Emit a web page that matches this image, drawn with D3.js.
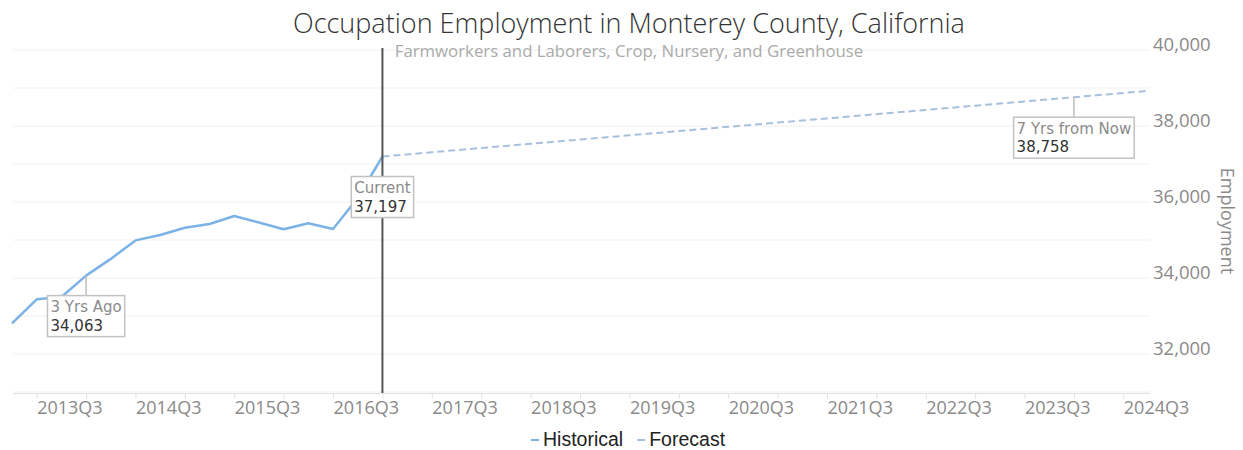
<!DOCTYPE html>
<html>
<head>
<meta charset="utf-8">
<script src="https://cdn.jsdelivr.net/npm/d3@7"></script>
<style>
  html, body { margin: 0; padding: 0; background: #fff; }
  svg { display: block; }
</style>
</head>
<body>
<svg id="chart" width="1243" height="450"></svg>
<script>
// ---- data ----
const histQuarters = ["2012Q4","2013Q1","2013Q2","2013Q3","2013Q4","2014Q1","2014Q2","2014Q3",
  "2014Q4","2015Q1","2015Q2","2015Q3","2015Q4","2016Q1","2016Q2","2016Q3"];
const histValues = [32808, 33439, 33500, 34063, 34503, 34990, 35132, 35324,
  35421, 35632, 35460, 35281, 35439, 35289, 36105, 37197];

const fcQuarters = ["2016Q3","2016Q4","2017Q1","2017Q2","2017Q3","2017Q4","2018Q1","2018Q2",
  "2018Q3","2018Q4","2019Q1","2019Q2","2019Q3","2019Q4","2020Q1","2020Q2",
  "2020Q3","2020Q4","2021Q1","2021Q2","2021Q3","2021Q4","2022Q1","2022Q2",
  "2022Q3","2022Q4","2023Q1","2023Q2","2023Q3","2023Q4","2024Q1","2024Q2"];
const fcValues = [37197, 37253, 37309, 37365, 37421, 37476, 37532, 37588,
  37644, 37699, 37755, 37811, 37866, 37922, 37978, 38033,
  38089, 38145, 38200, 38256, 38312, 38367, 38423, 38479,
  38535, 38590, 38646, 38702, 38758, 38813, 38869, 38924];

const halfYearTicks = ["2013Q1","2013Q3","2014Q1","2014Q3","2015Q1","2015Q3","2016Q1","2016Q3",
  "2017Q1","2017Q3","2018Q1","2018Q3","2019Q1","2019Q3","2020Q1","2020Q3",
  "2021Q1","2021Q3","2022Q1","2022Q3","2023Q1","2023Q3","2024Q1"];
const labelAnchors = ["2013Q1","2014Q1","2015Q1","2016Q1","2017Q1","2018Q1","2019Q1","2020Q1",
  "2021Q1","2022Q1","2023Q1","2024Q1"];
const tickLabels = ["2013Q3","2014Q3","2015Q3","2016Q3","2017Q3","2018Q3","2019Q3","2020Q3",
  "2021Q3","2022Q3","2023Q3","2024Q3"];

const yTickValues = [32000, 34000, 36000, 38000, 40000];
const yGridValues = [31000, 32000, 33000, 34000, 35000, 36000, 37000, 38000, 39000, 40000];

const callouts = [
  { q: "2013Q3", title: "3 Yrs Ago", value: 34063 },
  { q: "2016Q3", title: "Current", value: 37197 },
  { q: "2023Q3", title: "7 Yrs from Now", value: 38758 }
];
const currentQuarter = "2016Q3";

const titleText = "Occupation Employment in Monterey County, California";
const subtitleText = "Farmworkers and Laborers, Crop, Nursery, and Greenhouse";
const yTitle = "Employment";
const legendItems = ["Historical", "Forecast"];

// ---- layout ----
const plotLeft = 12, plotRight = 1148, plotTop = 50, plotBottom = 392;
const allQuarters = histQuarters.concat(fcQuarters.slice(1));

const svg = d3.select("#chart");
const x = d3.scalePoint().domain(allQuarters).range([plotLeft, plotRight]);
const y = d3.scaleLinear().domain([31000, 40000]).range([plotBottom, plotTop]);

const baseFont = "'Open Sans', 'Noto Sans', sans-serif";
const histColor = "#7cb3e6";
const fcColor = "#a7c1dd";

// gridlines
svg.append("g").selectAll("line").data(yGridValues).join("line")
  .attr("x1", plotLeft + 1).attr("x2", 1150)
  .attr("y1", d => y(d)).attr("y2", d => y(d))
  .attr("stroke", "#f0f0f0").attr("stroke-width", 1);

// x axis line + ticks
const xAxisG = svg.append("g").attr("transform", `translate(0,${plotBottom + 1})`)
  .call(d3.axisBottom(x).tickValues(halfYearTicks).tickFormat("").tickSize(6).tickSizeOuter(0));
xAxisG.select(".domain").attr("d", `M${plotLeft + 1},0.5H1150`).attr("stroke", "#e3e3e3");
xAxisG.selectAll(".tick line").attr("stroke", "#e3e3e3");

// x labels
const xLabG = svg.append("g").attr("transform", `translate(0,${plotBottom + 1})`)
  .call(d3.axisBottom(x).tickValues(labelAnchors)
    .tickFormat((d, i) => tickLabels[i]).tickSize(0).tickPadding(8));
xLabG.select(".domain").remove();
xLabG.selectAll(".tick text")
  .attr("text-anchor", "start")
  .attr("x", 0)
  .attr("font-family", baseFont).attr("font-size", 18).attr("fill", "#8a8a8a");

// y axis (right)
const yAxisG = svg.append("g").attr("transform", `translate(1150,0)`)
  .call(d3.axisRight(y).tickValues(yTickValues).tickFormat(d3.format(",")).tickSize(0).tickPadding(3));
yAxisG.select(".domain").remove();
yAxisG.selectAll(".tick text")
  .attr("dy", "0")
  .attr("font-family", baseFont).attr("font-size", 18.5).attr("fill", "#8a8a8a");

// y title
svg.append("text")
  .attr("transform", `translate(1221,221) rotate(90)`)
  .attr("text-anchor", "middle")
  .attr("font-family", baseFont).attr("font-size", 18).attr("fill", "#8a8a8a")
  .text(yTitle);

// lines
const line = d3.line().x(d => x(d[0])).y(d => y(d[1]));
svg.append("path")
  .datum(fcQuarters.map((q, i) => [q, fcValues[i]]))
  .attr("d", line).attr("fill", "none")
  .attr("stroke", fcColor).attr("stroke-width", 2).attr("stroke-dasharray", "7,4");
svg.append("path")
  .datum(histQuarters.map((q, i) => [q, histValues[i]]))
  .attr("d", line).attr("fill", "none")
  .attr("stroke", histColor).attr("stroke-width", 2.5).attr("stroke-linejoin", "round");

// leaders
const boxGap = 20, boxH = 41, pad = 3;
svg.append("g").selectAll("line").data(callouts.filter(c => c.q !== currentQuarter)).join("line")
  .attr("x1", d => x(d.q)).attr("x2", d => x(d.q))
  .attr("y1", d => y(d.value)).attr("y2", d => y(d.value) + boxGap)
  .attr("stroke", "#bdbdbd").attr("stroke-width", 1.5);

// current vertical line
svg.append("line")
  .attr("x1", x(currentQuarter)).attr("x2", x(currentQuarter))
  .attr("y1", 48).attr("y2", plotBottom + 1)
  .attr("stroke", "#555").attr("stroke-width", 2);

// callout boxes
const labelFont = "'DejaVu Sans', Verdana, sans-serif";
callouts.forEach(c => {
  const g = svg.append("g");
  const px = x(c.q), top = y(c.value) + boxGap;
  const rect = g.append("rect");
  const t1 = g.append("text").attr("font-family", labelFont).attr("font-size", 15)
    .attr("fill", "#8a8a8a").text(c.title);
  const t2 = g.append("text").attr("font-family", labelFont).attr("font-size", 15)
    .attr("fill", "#333").text(d3.format(",")(c.value));
  const w = Math.max(t1.node().getComputedTextLength(), t2.node().getComputedTextLength()) + pad * 2;
  const left = px - w / 2;
  rect.attr("x", left).attr("y", top).attr("width", w).attr("height", boxH)
    .attr("fill", "#fff").attr("stroke", "#c2c2c2").attr("stroke-width", 1.5);
  t1.attr("x", left + pad).attr("y", top + 16.5);
  t2.attr("x", left + pad).attr("y", top + 35);
});

// title & subtitle
svg.append("text").attr("x", 629).attr("y", 33).attr("text-anchor", "middle")
  .attr("font-family", baseFont).attr("font-size", 27).attr("font-weight", 300)
  .attr("fill", "#333").text(titleText);
svg.append("text").attr("x", 629).attr("y", 57).attr("text-anchor", "middle")
  .attr("font-family", baseFont).attr("font-size", 16.8)
  .attr("fill", "#aaa").text(subtitleText);

// legend
const legFont = "'Liberation Sans', Arial, sans-serif";
const legColors = [histColor, fcColor];
let lx = 531;
legendItems.forEach((name, i) => {
  svg.append("line").attr("x1", lx).attr("x2", lx + 8).attr("y1", 440).attr("y2", 440)
    .attr("stroke", legColors[i]).attr("stroke-width", 2);
  const t = svg.append("text").attr("x", lx + 12).attr("y", 445.5)
    .attr("font-family", legFont).attr("font-size", 19.5).attr("fill", "#222").text(name);
  lx = lx + 12 + t.node().getComputedTextLength() + 14;
});
</script>
</body>
</html>
